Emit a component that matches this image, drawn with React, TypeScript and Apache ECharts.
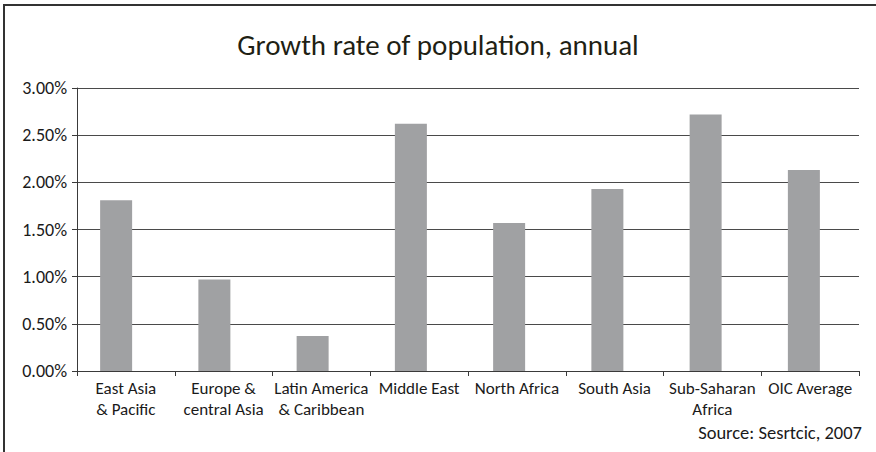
import React, { useEffect, useRef } from "react";
import * as echarts from "echarts";

const categories = [
  "East Asia\n& Pacific",
  "Europe &\ncentral Asia",
  "Latin America\n& Caribbean",
  "Middle East",
  "North Africa",
  "South Asia",
  "Sub-Saharan\nAfrica",
  "OIC Average",
];
const growthRates = [1.81, 0.97, 0.37, 2.62, 1.57, 1.93, 2.72, 2.13];
const yTicks = { min: 0, max: 3, interval: 0.5 };
const titleText = "Growth rate of population, annual";
const sourceText = "Source: Sesrtcic, 2007";

const FONT = "Carlito, Calibri, Lato, 'Open Sans', sans-serif";

export default function App() {
  const ref = useRef<HTMLDivElement>(null);
  useEffect(() => {
    if (!ref.current) return;
    const chart = echarts.init(ref.current, undefined, { renderer: "svg" });
    chart.setOption({
      animation: false,
      backgroundColor: "#ffffff",
      textStyle: { fontFamily: FONT },
      title: {
        text: titleText,
        left: "center",
        top: 25,
        textStyle: { fontFamily: FONT, fontSize: 29, fontWeight: "normal", color: "#1f1f14" },
      },
      grid: [
        { left: 77, right: 17, top: 88, bottom: 81 },
        { left: 67, right: 23, top: 88, bottom: 81 },
      ],
      xAxis: [
        {
          type: "category",
          gridIndex: 0,
          data: categories,
          axisLine: { show: true, lineStyle: { color: "#3a3a3a", width: 1 } },
          axisTick: { show: true, alignWithLabel: false, length: 5, lineStyle: { color: "#3a3a3a" } },
          axisLabel: {
            interval: 0,
            fontFamily: FONT,
            fontSize: 17,
            color: "#1a1a1a",
            margin: 7,
            lineHeight: 21,
          },
        },
        {
          type: "category",
          gridIndex: 1,
          data: categories,
          show: false,
        },
      ],
      yAxis: [
        {
          type: "value",
          gridIndex: 0,
          ...yTicks,
          axisLine: { show: true, lineStyle: { color: "#3a3a3a", width: 1 } },
          axisTick: { show: true, length: 5, lineStyle: { color: "#3a3a3a" } },
          splitLine: { show: true, lineStyle: { color: "#4a4a4a", width: 1 } },
          axisLabel: {
            fontFamily: FONT,
            fontSize: 18,
            color: "#1a1a1a",
            margin: 10,
            formatter: (v: number) => v.toFixed(2) + "%",
          },
        },
        {
          type: "value",
          gridIndex: 1,
          ...yTicks,
          show: false,
          splitLine: { show: false },
        },
      ],
      series: [
        {
          type: "bar",
          xAxisIndex: 1,
          yAxisIndex: 1,
          data: growthRates,
          barWidth: 32,
          itemStyle: { color: "#a0a1a3" },
        },
      ],
      graphic: [
        {
          type: "line",
          shape: { x1: 3, y1: 5, x2: 876, y2: 5 },
          style: { stroke: "#333333", lineWidth: 2 },
        },
        {
          type: "line",
          shape: { x1: 4, y1: 5, x2: 4, y2: 452 },
          style: { stroke: "#333333", lineWidth: 2 },
        },
        {
          type: "text",
          right: 14,
          top: 423,
          style: { text: sourceText, fontFamily: FONT, fontSize: 18.5, fill: "#1a1a1a" },
        },
      ],
    });
    return () => chart.dispose();
  }, []);
  return (
    <div
      ref={ref}
      style={{ position: "fixed", left: 0, top: 0, width: 876, height: 452 }}
    />
  );
}
